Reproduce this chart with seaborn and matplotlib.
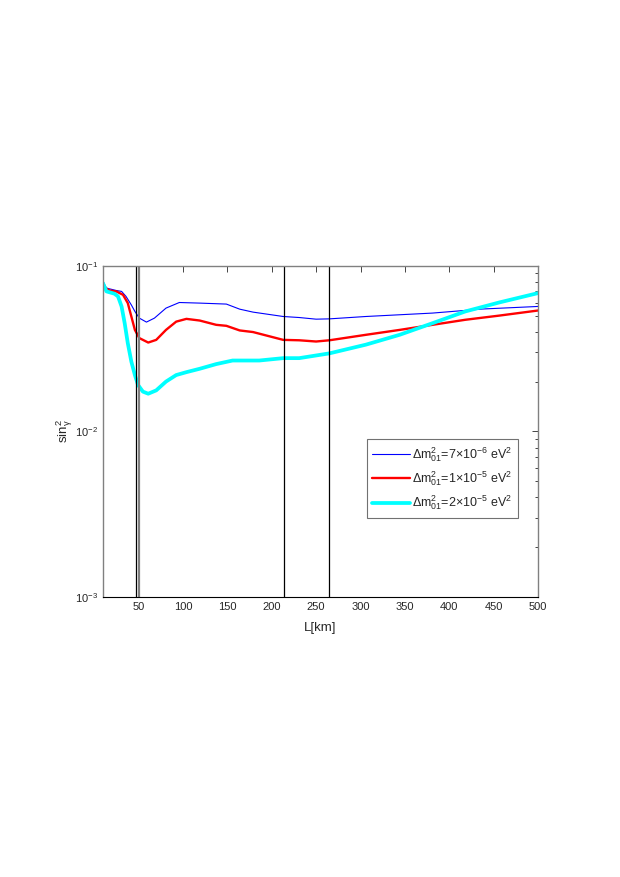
import pandas as pd
import seaborn as sns
import matplotlib
matplotlib.use("Agg")
import matplotlib.pyplot as plt

# Data
L_blue = [10, 14, 25, 31, 36, 42, 46, 51, 59, 68, 81, 96, 119, 149, 164, 179, 213,
          231, 250, 265, 306, 381, 437, 500]
s_blue = [0.0804, 0.0733, 0.0709, 0.070, 0.0653, 0.058, 0.053, 0.0483, 0.0457, 0.0483,
          0.0555, 0.060, 0.0595, 0.0587, 0.0547, 0.0525, 0.0494, 0.0487, 0.0476, 0.0478,
          0.0494, 0.0518, 0.0548, 0.0568]

L_red = [10, 17.6, 25, 32.6, 38, 42, 46, 51, 61, 70, 81, 92.5, 104, 119, 137.5, 149, 164,
         179, 213, 231, 250, 265, 306, 344, 381, 418, 456, 500]
s_red = [0.075, 0.0709, 0.070, 0.0668, 0.0595, 0.0494, 0.041, 0.0366, 0.0344, 0.0357,
         0.041, 0.046, 0.0478, 0.0467, 0.044, 0.0434, 0.0407, 0.0398, 0.0357, 0.0355,
         0.0349, 0.0355, 0.0383, 0.041, 0.044, 0.0472, 0.050, 0.0537]

L_cyan = [10, 14, 23, 27, 31, 34.5, 38, 42, 46, 49.5, 55, 61, 70, 81, 92.5, 104, 119,
          137.5, 156, 186, 213, 231, 265, 306, 344, 381, 418, 456, 500]
s_cyan = [0.0786, 0.070, 0.0678, 0.0653, 0.0568, 0.045, 0.0341, 0.0264, 0.0219, 0.0191,
          0.0174, 0.0169, 0.0177, 0.020, 0.0219, 0.0228, 0.0239, 0.0255, 0.0268, 0.0268,
          0.0277, 0.0277, 0.0296, 0.0334, 0.0383, 0.045, 0.053, 0.060, 0.0684]

vlines_L = [47, 214, 264]
vline_gray_L = 51

labels = [r"$\Delta$m$^2_{01}$=7$\times$10$^{-6}$ eV$^2$",
          r"$\Delta$m$^2_{01}$=1$\times$10$^{-5}$ eV$^2$",
          r"$\Delta$m$^2_{01}$=2$\times$10$^{-5}$ eV$^2$"]
x_ticks = list(range(50, 501, 50))

sns.set_style("white")
plt.rcParams["font.family"] = ["Liberation Sans", "DejaVu Sans"]
plt.rcParams["mathtext.default"] = "regular"

fig = plt.figure(figsize=(6.2, 8.77), dpi=100)
ax = fig.add_axes([0.166, 0.319, 0.702, 0.378])

df_b = pd.DataFrame({"L": L_blue, "s": s_blue})
df_r = pd.DataFrame({"L": L_red, "s": s_red})
df_c = pd.DataFrame({"L": L_cyan, "s": s_cyan})

sns.lineplot(data=df_b, x="L", y="s", ax=ax, color="blue", lw=0.8, label=labels[0])
sns.lineplot(data=df_r, x="L", y="s", ax=ax, color="red", lw=1.7, label=labels[1])
sns.lineplot(data=df_c, x="L", y="s", ax=ax, color="cyan", lw=2.7, label=labels[2])

for v in vlines_L:
    ax.axvline(v, color="black", lw=0.9)
ax.axvline(vline_gray_L, color="0.5", lw=1.6)

ax.set_yscale("log")
ax.set_xlim(10, 500)
ax.set_ylim(1e-3, 1e-1)
ax.set_xticks(x_ticks)
ax.set_xlabel("L[km]", fontsize=9.5, labelpad=7)
ax.set_ylabel(r"sin$^2_\gamma$", fontsize=9.5, labelpad=0)

ax.tick_params(which="both", direction="in", top=True, right=True, labelsize=8)
ax.tick_params(which="major", length=4, width=0.6)
ax.tick_params(which="minor", length=2.5, width=0.6)

for side in ["left", "top", "right"]:
    ax.spines[side].set_color("0.5")
    ax.spines[side].set_linewidth(1.0)
ax.spines["bottom"].set_color("black")
ax.spines["bottom"].set_linewidth(0.8)

leg = ax.legend(loc="lower right", bbox_to_anchor=(0.954, 0.239), fontsize=9,
                frameon=True, fancybox=False, handlelength=3.0, borderpad=0.45,
                labelspacing=0.45, handletextpad=0.2, borderaxespad=0)
leg.get_frame().set_edgecolor("0.3")
leg.get_frame().set_linewidth(0.8)

fig.savefig("out.png", dpi=100)
